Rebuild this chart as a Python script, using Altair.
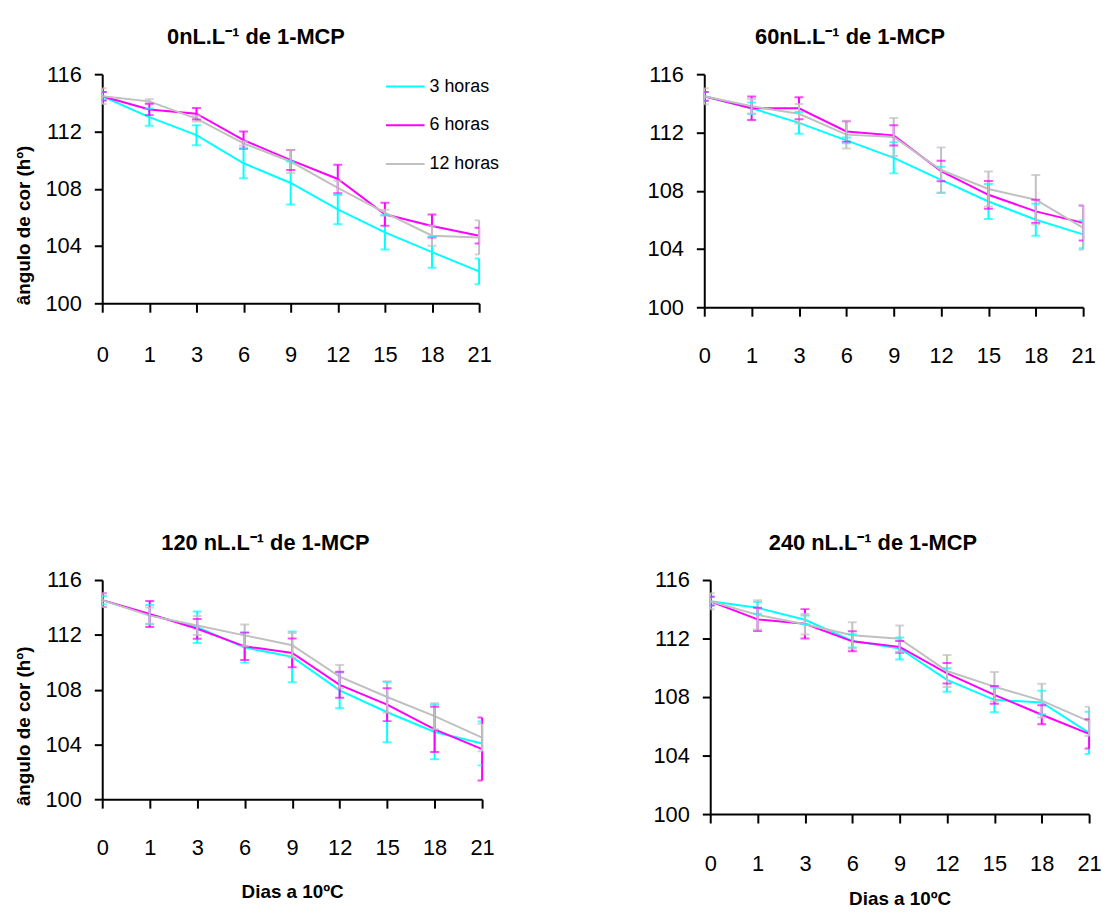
import altair as alt
import pandas as pd

dias = ["0", "1", "3", "6", "9", "12", "15", "18", "21"]
series = ["3 horas", "6 horas", "12 horas"]
cores = ["#00FFFF", "#FF00FF", "#C0C0C0"]

titulos = ["0nL.L\u207b\u00b9 de 1-MCP", "60nL.L\u207b\u00b9 de 1-MCP",
           "120 nL.L\u207b\u00b9 de 1-MCP", "240 nL.L\u207b\u00b9 de 1-MCP"]

# 0 nL
p0_3h = [114.46, 113.0, 111.74, 109.78, 108.4, 106.56, 104.95, 103.57, 102.23]
p0_3h_err = [0.3, 0.6, 0.7, 1.04, 1.5, 1.04, 1.2, 1.08, 0.9]
p0_6h = [114.46, 113.54, 113.24, 111.4, 110.0, 108.68, 106.22, 105.4, 104.72]
p0_6h_err = [0.3, 0.4, 0.4, 0.6, 0.7, 1.0, 0.8, 0.8, 0.55]
p0_12h = [114.46, 114.1, 112.9, 111.17, 109.9, 108.06, 106.33, 104.72, 104.6]
p0_12h_err = [0.55, 0.15, 0.2, 0.15, 0.8, 0.5, 0.2, 0.7, 1.2]

# 60 nL
p60_3h = [114.48, 113.66, 112.66, 111.46, 110.26, 108.74, 107.26, 106.01, 105.0]
p60_3h_err = [0.3, 0.4, 0.75, 0.2, 1.07, 0.9, 1.2, 1.1, 0.95]
p60_6h = [114.48, 113.66, 113.66, 112.07, 111.8, 109.35, 107.72, 106.58, 105.79]
p60_6h_err = [0.3, 0.8, 0.75, 0.7, 0.7, 0.7, 0.95, 0.8, 1.2]
p60_12h = [114.48, 113.8, 113.28, 111.85, 111.69, 109.42, 108.12, 107.38, 105.45]
p60_12h_err = [0.55, 0.5, 0.68, 0.95, 1.3, 1.55, 1.2, 1.7, 1.5]

# 120 nL
p120_3h = [114.53, 113.47, 112.56, 111.07, 110.39, 107.94, 106.35, 104.91, 104.07]
p120_3h_err = [0.3, 0.7, 1.15, 1.1, 1.85, 1.3, 2.2, 2.0, 1.6]
p120_6h = [114.53, 113.52, 112.44, 111.16, 110.68, 108.35, 106.9, 105.1, 103.66]
p120_6h_err = [0.5, 0.95, 0.72, 1.0, 1.05, 0.95, 1.2, 1.65, 2.3]
p120_12h = [114.53, 113.4, 112.68, 111.96, 111.24, 108.95, 107.46, 106.06, 104.5]
p120_12h_err = [0.5, 0.6, 0.7, 0.8, 0.9, 0.85, 1.15, 0.95, 1.0]

# 240 nL
p240_3h = [114.55, 114.1, 113.28, 111.84, 111.32, 109.17, 107.81, 107.63, 105.55]
p240_3h_err = [0.3, 0.4, 0.3, 0.45, 0.75, 0.8, 0.85, 0.8, 1.45]
p240_6h = [114.55, 113.31, 113.01, 111.81, 111.43, 109.62, 108.15, 106.79, 105.48]
p240_6h_err = [0.3, 0.8, 1.0, 0.68, 0.4, 0.7, 0.6, 0.65, 1.0]
p240_12h = [114.55, 113.62, 112.97, 112.22, 111.99, 109.78, 108.71, 107.76, 106.34]
p240_12h_err = [0.55, 1.0, 0.7, 0.9, 0.9, 1.1, 1.0, 1.15, 1.0]

paineis = [
    [(p0_3h, p0_3h_err), (p0_6h, p0_6h_err), (p0_12h, p0_12h_err)],
    [(p60_3h, p60_3h_err), (p60_6h, p60_6h_err), (p60_12h, p60_12h_err)],
    [(p120_3h, p120_3h_err), (p120_6h, p120_6h_err), (p120_12h, p120_12h_err)],
    [(p240_3h, p240_3h_err), (p240_6h, p240_6h_err), (p240_12h, p240_12h_err)],
]

rows = []
for pi, painel in enumerate(paineis):
    for si, (medias, erros) in enumerate(painel):
        for d, m, e in zip(dias, medias, erros):
            rows.append({"painel": pi, "dia": d, "serie": series[si],
                         "media": m, "lo": m - e, "hi": m + e})
df = pd.DataFrame(rows)

FONT = "Liberation Sans"


def painel(pi, w, h, title_dx, ytitle, ytitle_y, xtitle, legend,
           lab_pad, title_pad):
    base = alt.Chart(df).transform_filter(alt.datum.painel == pi)
    xenc = alt.X("dia:N", sort=dias, scale=alt.Scale(type="point", padding=0),
                 axis=alt.Axis(title=("Dias  a 10\u00baC" if xtitle else None),
                               labelAngle=0, tickSize=9, labelPadding=lab_pad,
                               labelOverlap=False, titleFontSize=19,
                               titleFontWeight="bold", titlePadding=title_pad,
                               titleFont=FONT))
    if ytitle:
        yaxis = alt.Axis(values=[100, 104, 108, 112, 116], tickSize=8,
                         labelPadding=13, grid=False,
                         title="\u00e2ngulo de cor (h\u00ba)",
                         titleFontSize=19, titleFontWeight="bold", titleFont=FONT,
                         titleX=-79, titleY=ytitle_y, titleBaseline="middle",
                         titleAlign="center", titleAngle=270)
    else:
        yaxis = alt.Axis(values=[100, 104, 108, 112, 116], tickSize=8,
                         labelPadding=13, grid=False, title=None)
    yscale = alt.Scale(domain=[100, 116], nice=False, zero=False)
    cscale = alt.Scale(domain=series, range=cores)
    if legend:
        leg = alt.Legend(title=None, orient="none", legendX=285, legendY=-8,
                         symbolType="stroke", symbolSize=1521,
                         symbolStrokeWidth=2, labelFontSize=18, labelFont=FONT,
                         padding=0, rowPadding=9, labelOffset=4)
    else:
        leg = None
    linha = base.mark_line(strokeWidth=2).encode(
        x=xenc, y=alt.Y("media:Q", scale=yscale, axis=yaxis),
        color=alt.Color("serie:N", scale=cscale, legend=leg))
    barra = base.mark_rule(strokeWidth=2).encode(
        x=alt.X("dia:N", sort=dias), y="lo:Q", y2="hi:Q",
        color=alt.Color("serie:N", scale=cscale, legend=None))
    cap_lo = base.mark_tick(thickness=2, size=9, clip=True).encode(
        x=alt.X("dia:N", sort=dias), y="lo:Q",
        color=alt.Color("serie:N", scale=cscale, legend=None))
    cap_hi = base.mark_tick(thickness=2, size=9, clip=True).encode(
        x=alt.X("dia:N", sort=dias), y="hi:Q",
        color=alt.Color("serie:N", scale=cscale, legend=None))
    return alt.layer(linha, barra, cap_lo, cap_hi).properties(
        width=w, height=h,
        title=alt.TitleParams(titulos[pi], fontSize=22, fontWeight="bold",
                              font=FONT, dx=title_dx, offset=14, frame="group",
                              anchor="middle"))


p1 = painel(0, 380, 231, -35, True, 152, False, True, 33, 18)
p2 = painel(1, 382, 235, -44, False, 0, False, False, 30, 18)
p3 = painel(2, 383, 221, -27, True, 147, True, False, 30, 24)
p4 = painel(3, 382, 236, -27, False, 0, True, False, 31, 15)

top = alt.hconcat(p1, p2, spacing=148).resolve_scale(color="independent")
bot = alt.hconcat(p3, p4, spacing=159).resolve_scale(color="independent")

chart = alt.vconcat(top, bot, spacing=167).resolve_scale(
    color="independent"
).properties(
    padding={"left": 7, "top": 15, "right": 0, "bottom": 0}
).configure_view(stroke=None).configure_axis(
    labelFont=FONT, labelFontSize=22, labelColor="black",
    domainColor="black", domainWidth=2, tickColor="black", tickWidth=2,
    titleColor="black"
).configure_title(color="black")

chart.save("out.html", embed_options={"renderer": "svg", "actions": False})
